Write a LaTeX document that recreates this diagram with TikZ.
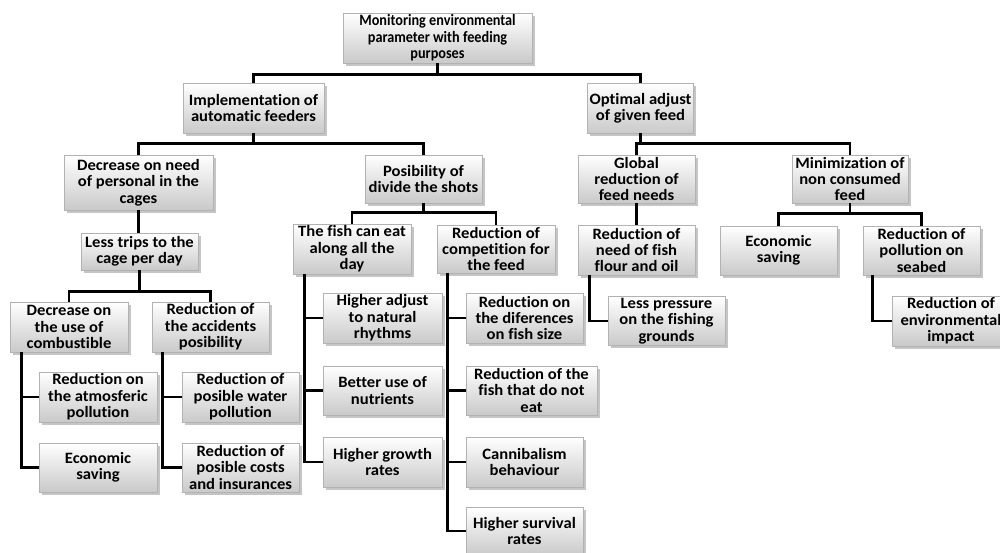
\documentclass[tikz,border=0pt]{standalone}
\usepackage{fontspec}
\setmainfont{Carlito}[FakeStretch=1.05, Ligatures=NoCommon]
\newfontfamily\topfont{Carlito}[FakeStretch=0.9, Ligatures=NoCommon]
\usetikzlibrary{shadows}
\begin{document}
\begin{tikzpicture}[x=0.02cm,y=-0.02cm,
  box/.style={draw=gray!60, line width=0.4pt, top color=white, bottom color=gray!42,
    drop shadow={shadow xshift=1.5pt, shadow yshift=-1.5pt, opacity=0.45},
    align=center, inner sep=1pt, font=\bfseries\fontsize{9}{9.3}\selectfont},
  topbox/.style={box, font=\topfont\bfseries\fontsize{9}{9.3}\selectfont},
  sz/.style 2 args={minimum width=#1*0.02cm, minimum height=#2*0.02cm},
  link/.style={draw=black, line width=1.4pt}]
\fill[white] (0,0) rectangle (1000,553);
\useasboundingbox (0,0) rectangle (1000,553);

% level 0-1
\node[topbox, sz={189}{50}] (top) at (437.5,38) {Monitoring  environmental\\parameter with feeding\\purposes};
\node[box, sz={141}{50}] (impl) at (253.5,108) {Implementation of\\automatic feeders};
\node[box, sz={95}{50}] (opt) at (640.5,108) {Optimal adjust\\of given feed};

% level 2
\node[box, sz={149}{55}] (dec) at (138.5,182.5) {Decrease on need\\of personal in the\\cages};
\node[box, sz={117}{48}] (pos) at (423.5,179) {Posibility of\\divide the shots};
\node[box, sz={117}{48}] (glob) at (636.5,179) {Global\\reduction of\\feed needs};
\node[box, sz={116}{48}] (mini) at (850,179) {Minimization of\\non consumed\\feed};

% level 3
\node[box, sz={117}{37}] (less) at (139.5,251.5) {Less trips to the\\cage per day};
\node[box, sz={118}{48}] (fish) at (352,249) {The fish can eat\\along all the\\day};
\node[box, sz={118}{48}] (comp) at (496,249) {Reduction of\\competition for\\the feed};
\node[box, sz={117}{50}] (need) at (636.5,250) {Reduction of\\need of fish\\flour and oil};
\node[box, sz={117}{49}] (econB) at (778.5,250.5) {Economic\\saving};
\node[box, sz={117}{49}] (poll) at (921.5,250.5) {Reduction of\\pollution on\\seabed};

% level 4 left
\node[box, sz={118}{50}] (comb) at (69,327) {Decrease on\\the use of\\combustible};
\node[box, sz={117}{50}] (acc) at (210.5,327) {Reduction of\\the accidents\\posibility};
\node[box, sz={118}{50}] (atm) at (98,397) {Reduction on\\the atmosferic\\pollution};
\node[box, sz={118}{49}] (econA) at (98,467.5) {Economic\\saving};
\node[box, sz={117}{50}] (water) at (240.5,397) {Reduction of\\posible water\\pollution};
\node[box, sz={117}{49}] (costs) at (240.5,467.5) {Reduction of\\posible costs\\and insurances};

% fish branch
\node[box, sz={119}{50}] (adj) at (382.5,318) {Higher adjust\\to natural\\rhythms};
\node[box, sz={119}{49}] (nutr) at (382.5,390.5) {Better use of\\nutrients};
\node[box, sz={119}{50}] (grow) at (382.5,462) {Higher growth\\rates};

% competition branch
\node[box, sz={117}{50}] (diff) at (524.5,318) {Reduction on\\the diferences\\on fish size};
\node[box, sz={131}{49}] (noteat) at (531.5,390.5) {Reduction of the\\fish that do not\\eat};
\node[box, sz={117}{50}] (cann) at (524.5,462) {Cannibalism\\behaviour};
\node[box, sz={117}{48}] (surv) at (524.5,531) {Higher survival\\rates};

% right leaves
\node[box, sz={117}{48}] (press) at (666.5,321) {Less pressure\\on the fishing\\grounds};
\node[box, sz={118}{48}] (env) at (951,321) {Reduction of\\environmental\\impact};

% connectors
\draw[link] (top.south) -- ++(0,11) -| (impl.north);
\draw[link] (top.south) -- ++(0,11) -| (opt.north);
\draw[link] (impl.south) -- ++(0,10) -| (dec.north);
\draw[link] (impl.south) -- ++(0,10) -| (pos.north);
\draw[link] (opt.south) -- ++(0,10) -| (glob.north);
\draw[link] (opt.south) -- ++(0,10) -| (mini.north);
\draw[link] (dec.south) -- (dec.south |- less.north);
\draw[link] (less.south) -- ++(0,21) -| (comb.north);
\draw[link] (less.south) -- ++(0,21) -| (acc.north);
\draw[link] (pos.south) -- ++(0,9) -| (fish.north);
\draw[link] (pos.south) -- ++(0,9) -| (comp.north);
\draw[link] (glob.south) -- (glob.south |- need.north);
\draw[link] (mini.south) -- ++(0,10) -| (econB.north);
\draw[link] (mini.south) -- ++(0,10) -| (poll.north);

\draw[link] ([xshift=0.24cm]comb.south west) |- (atm.west);
\draw[link] ([xshift=0.24cm]comb.south west) |- (econA.west);
\draw[link] ([xshift=0.22cm]acc.south west) |- (water.west);
\draw[link] ([xshift=0.22cm]acc.south west) |- (costs.west);
\draw[link] ([xshift=0.24cm]fish.south west) |- (adj.west);
\draw[link] ([xshift=0.24cm]fish.south west) |- (nutr.west);
\draw[link] ([xshift=0.24cm]fish.south west) |- (grow.west);
\draw[link] ([xshift=0.22cm]comp.south west) |- (diff.west);
\draw[link] ([xshift=0.22cm]comp.south west) |- (noteat.west);
\draw[link] ([xshift=0.22cm]comp.south west) |- (cann.west);
\draw[link] ([xshift=0.22cm]comp.south west) |- (surv.west);
\draw[link] ([xshift=0.24cm]need.south west) |- (press.west);
\draw[link] ([xshift=0.2cm]poll.south west) |- (env.west);
\end{tikzpicture}
\end{document}
